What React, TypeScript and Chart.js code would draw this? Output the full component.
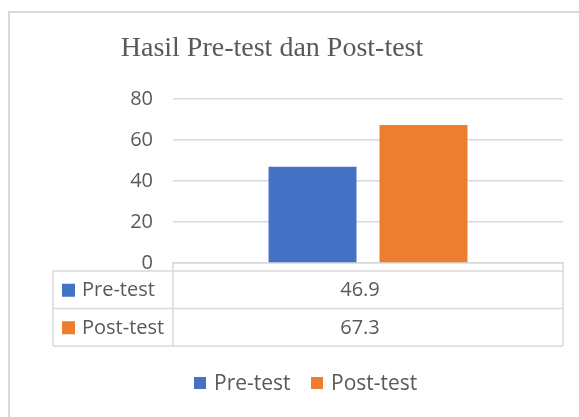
import { useEffect, useRef } from "react";
import { Chart, registerables } from "chart.js";

Chart.register(...registerables);

const chartTitle = "Hasil Pre-test dan Post-test";
const categories = [""];
const seriesNames = ["Pre-test", "Post-test"];
const preTestValues = [46.9];
const postTestValues = [67.3];
const seriesColors = ["#4472C4", "#ED7D31"];
const yMin = 0;
const yMax = 80;
const yStep = 20;

const TEXT = "#595959";
const LINE = "#d9d9d9";
const SANS = "'Open Sans', 'DejaVu Sans', sans-serif";
const SERIF = "'Liberation Serif', 'DejaVu Serif', serif";

const decorPlugin = {
  id: "decor",
  afterDraw(chart: any) {
    const { ctx, chartArea } = chart;
    const ds = chart.data.datasets;
    ctx.save();

    // outer frame
    ctx.strokeStyle = LINE;
    ctx.lineWidth = 2;
    ctx.strokeRect(9, 12, 700, 500);

    // title
    ctx.fillStyle = TEXT;
    ctx.font = `28px ${SERIF}`;
    ctx.textAlign = "center";
    ctx.textBaseline = "middle";
    ctx.fillText(chartTitle, 272, 49);

    // data table
    const left = 53;
    const colX = chartArea.left;
    const right = chartArea.right;
    const top = chartArea.bottom + 8;
    const rowH = 37.5;
    const bottom = top + rowH * ds.length;
    ctx.strokeStyle = LINE;
    ctx.lineWidth = 1.5;
    ctx.beginPath();
    ctx.moveTo(colX, chartArea.bottom);
    ctx.lineTo(colX, bottom);
    ctx.moveTo(right, chartArea.bottom);
    ctx.lineTo(right, bottom);
    ctx.moveTo(left, top);
    ctx.lineTo(left, bottom);
    for (let i = 0; i <= ds.length; i++) {
      const y = top + rowH * i;
      ctx.moveTo(left, y);
      ctx.lineTo(right, y);
    }
    ctx.stroke();

    ctx.font = `20px ${SANS}`;
    ctx.textBaseline = "middle";
    ds.forEach((d: any, i: number) => {
      const cy = top + rowH * i + rowH / 2;
      ctx.fillStyle = d.backgroundColor;
      ctx.fillRect(62, cy - 6, 13, 13);
      ctx.fillStyle = TEXT;
      ctx.textAlign = "left";
      ctx.fillText(d.label, 82, cy + 1);
      ctx.textAlign = "center";
      ctx.fillText(String(d.data[0]), 360, cy + 1);
    });

    // legend
    ctx.font = `21px ${SANS}`;
    const legendY = 383;
    const legendX = [194, 311];
    ds.forEach((d: any, i: number) => {
      ctx.fillStyle = d.backgroundColor;
      ctx.fillRect(legendX[i], legendY - 6, 12, 12);
      ctx.fillStyle = TEXT;
      ctx.textAlign = "left";
      ctx.fillText(d.label, legendX[i] + 20, legendY + 1);
    });

    ctx.restore();
  },
};

export default function App() {
  const ref = useRef<HTMLCanvasElement>(null);
  useEffect(() => {
    if (!ref.current) return;
    const chart = new Chart(ref.current, {
      type: "bar",
      data: {
        labels: categories,
        datasets: [
          { label: seriesNames[0], data: preTestValues, backgroundColor: seriesColors[0] },
          { label: seriesNames[1], data: postTestValues, backgroundColor: seriesColors[1] },
        ],
      },
      options: {
        responsive: false,
        animation: false,
        events: [],
        categoryPercentage: 0.569,
        barPercentage: 0.793,
        layout: { padding: { left: 0, top: 99, right: 16, bottom: 154 } },
        plugins: {
          legend: { display: false },
          title: { display: false },
          tooltip: { enabled: false },
        },
        scales: {
          x: {
            ticks: { display: false },
            grid: { display: false, drawTicks: false },
            border: { display: true, color: LINE, width: 1.5 },
            afterFit(scale: any) {
              scale.height = 0;
            },
          },
          y: {
            min: yMin,
            max: yMax,
            ticks: {
              stepSize: yStep,
              padding: 20,
              color: TEXT,
              font: { family: SANS, size: 20 },
            },
            grid: { color: LINE, lineWidth: 1.5, drawTicks: false },
            border: { display: false },
            afterFit(scale: any) {
              scale.width = 173;
            },
          },
        },
      },
      plugins: [decorPlugin],
    } as any);
    return () => chart.destroy();
  }, []);
  return (
    <div style={{ position: "absolute", left: 0, top: 0, width: 579, height: 417, background: "#fff" }}>
      <canvas ref={ref} width={579} height={417} />
    </div>
  );
}
